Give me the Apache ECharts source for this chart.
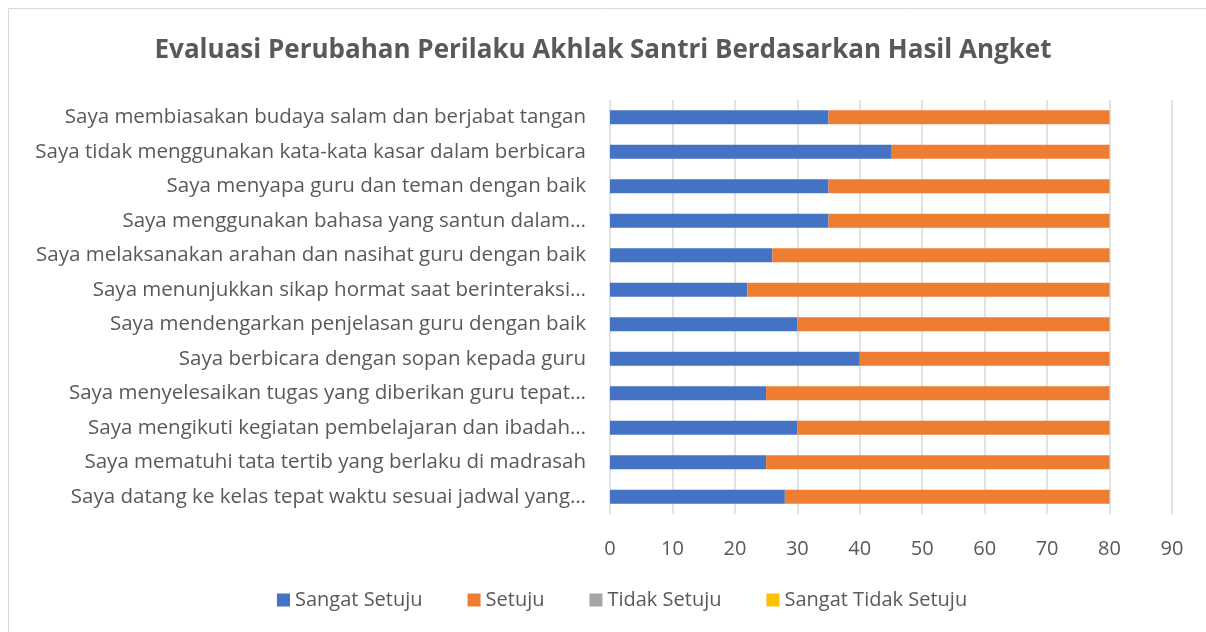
<!DOCTYPE html>
<html>
<head>
<meta charset="utf-8">
<script src="https://cdn.jsdelivr.net/npm/echarts@6/dist/echarts.min.js"></script>
<style>
  html, body { margin: 0; padding: 0; background: #fff; }
  #main { width: 1206px; height: 632px; }
</style>
</head>
<body>
<div id="main"></div>
<script>
// categories listed bottom to top (as the category axis draws them)
const categories = [
	"Saya datang ke kelas tepat waktu sesuai jadwal yang…",
	"Saya mematuhi tata tertib yang berlaku di madrasah",
	"Saya mengikuti kegiatan pembelajaran dan ibadah…",
	"Saya menyelesaikan tugas yang diberikan guru tepat…",
	"Saya berbicara dengan sopan kepada guru",
	"Saya mendengarkan penjelasan guru dengan baik",
	"Saya menunjukkan sikap hormat saat berinteraksi…",
	"Saya melaksanakan arahan dan nasihat guru dengan baik",
	"Saya menggunakan bahasa yang santun dalam…",
	"Saya menyapa guru dan teman dengan baik",
	"Saya tidak menggunakan kata-kata kasar dalam berbicara",
	"Saya membiasakan budaya salam dan berjabat tangan"
];
const sangatSetuju = [28, 25, 30, 25, 40, 30, 22, 26, 35, 35, 45, 35];
const setuju = [52, 55, 50, 55, 40, 50, 58, 54, 45, 45, 35, 45];
const tidakSetuju = [0, 0, 0, 0, 0, 0, 0, 0, 0, 0, 0, 0];
const sangatTidakSetuju = [0, 0, 0, 0, 0, 0, 0, 0, 0, 0, 0, 0];
const xTicks = [0, 10, 20, 30, 40, 50, 60, 70, 80, 90];

const font = "'Open Sans', sans-serif";
const textColor = "#595959";

let myCharts = echarts.init(document.getElementById("main"), null, {renderer: 'canvas'});

function barSeries(name, data, color) {
	return {
		name: name,
		type: "bar",
		stack: "total",
		barWidth: 14,
		itemStyle: { color: color },
		data: data
	};
}

let option = {
	animation: false,
	backgroundColor: "#fff",
	textStyle: { fontFamily: font },
	title: {
		text: "Evaluasi Perubahan Perilaku Akhlak Santri Berdasarkan Hasil Angket",
		left: "center",
		top: 33,
		textStyle: { fontFamily: font, fontSize: 26, fontWeight: "bold", color: textColor }
	},
	graphic: [
		{
			type: "rect",
			shape: { x: 8.5, y: 8.5, width: 1200, height: 630 },
			style: { fill: "none", stroke: "#d9d9d9", lineWidth: 1 },
			silent: true
		}
	],
	legend: {
		bottom: 17,
		left: 272,
		itemWidth: 13,
		itemHeight: 13,
		itemGap: 45,
		icon: "rect",
		textStyle: { fontFamily: font, fontSize: 20, color: textColor },
		data: ["Sangat Setuju", "Setuju", "Tidak Setuju", "Sangat Tidak Setuju"]
	},
	grid: { left: 610, right: 34, top: 100, bottom: 118 },
	xAxis: {
		type: "value",
		min: 0,
		max: 90,
		interval: 10,
		axisLine: { show: false },
		axisTick: { show: false },
		axisLabel: {
			margin: 25,
			fontFamily: font,
			fontSize: 20,
			color: textColor,
			formatter: function (v) { return xTicks.indexOf(v) >= 0 ? String(v) : ""; }
		},
		splitLine: { lineStyle: { color: "#d9d9d9", width: 1.5 } }
	},
	yAxis: {
		type: "category",
		data: categories,
		axisLine: { show: false },
		axisTick: { show: false },
		axisLabel: { margin: 24, fontFamily: font, fontSize: 20.5, color: textColor }
	},
	series: [
		barSeries("Sangat Setuju", sangatSetuju, "#4472c4"),
		barSeries("Setuju", setuju, "#ed7d31"),
		barSeries("Tidak Setuju", tidakSetuju, "#a5a5a5"),
		barSeries("Sangat Tidak Setuju", sangatTidakSetuju, "#ffc000")
	]
};
myCharts.setOption(option);
</script>
</body>
</html>
